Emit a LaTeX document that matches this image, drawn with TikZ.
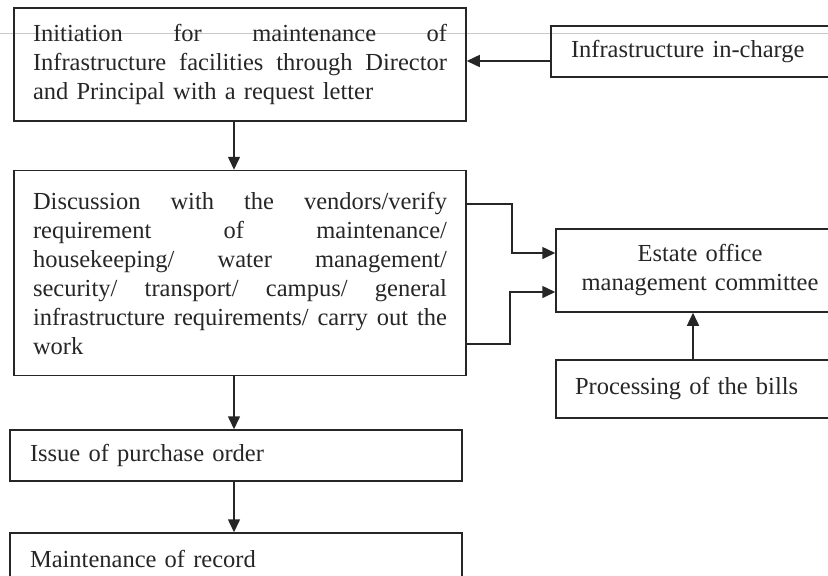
\documentclass[tikz,border=0pt]{standalone}
\usepackage{fontspec}
\setmainfont{Liberation Serif}
\usetikzlibrary{arrows.meta}

\definecolor{ink}{HTML}{262626}
\definecolor{rule}{HTML}{C8C8C8}

% one justified line, spread to the text width of the wide boxes
% (the node alignment fixes the word space, so give it stretch again)
\newcommand\jline[1]{\makebox[207pt][s]{\spaceskip=0.25em plus 10em\relax #1}\\}

\tikzset{
  box/.style={draw=ink, line width=0.75pt, rectangle, text=ink, inner ysep=0pt,
    font=\fontsize{12.25pt}{14.5pt}\selectfont},
  arr/.style={draw=ink, line width=0.75pt, -{Triangle[length=6.5pt,width=6pt]}},
  link/.style={draw=ink, line width=0.75pt}
}

\begin{document}
\begin{tikzpicture}[x=0.5pt,y=-0.5pt]
\useasboundingbox (0,0) rectangle (828,575);

% thin grey rule running across the top of the page
\draw[rule, line width=0.4pt] (0,33) -- (828,33);

% process boxes
\node[box, minimum width=226pt, minimum height=56.5pt, inner xsep=9.5pt,
      text width=207pt, align=left] (init) at (240,64.5)
  {\jline{Initiation for maintenance of}\jline{Infrastructure facilities through Director}and Principal with a request letter};

\node[box, minimum width=149.5pt, minimum height=25.5pt, inner xsep=10pt,
      text width=129.5pt, align=left] (incharge) at (700.5,51.5)
  {Infrastructure in-charge};

\node[box, minimum width=226pt, minimum height=102.5pt, inner xsep=9.5pt,
      text width=207pt, align=left] (disc) at (240,273)
  {\jline{Discussion with the vendors/verify}\jline{requirement of maintenance/}\jline{housekeeping/ water management/}\jline{security/ transport/ campus/ general}\jline{infrastructure requirements/ carry out the}work};

\node[box, minimum width=144pt, minimum height=41.5pt, inner xsep=10pt,
      text width=124pt, align=center] (estate) at (700,270.5)
  {Estate office\\management committee};

\node[box, minimum width=147pt, minimum height=29pt, inner xsep=9.5pt,
      text width=128pt, align=left] (bills) at (703,389)
  {Processing of the bills};

\node[box, minimum width=226pt, minimum height=25.5pt, inner xsep=10pt,
      text width=206pt, align=left] (po) at (236,455.5)
  {Issue of purchase order};

\node[box, minimum width=226pt, minimum height=26pt, inner xsep=10pt,
      text width=206pt, align=left] (record) at (236,559)
  {Maintenance of record};

% reference points for the connectors
\coordinate (ax) at (234,0);
\coordinate (bx) at (693,0);
\coordinate (r1) at (0,61);
\coordinate (u1) at (0,204);
\coordinate (u2) at (0,253);
\coordinate (l1) at (0,344);
\coordinate (l2) at (0,292);

% connectors
\draw[arr] (incharge.west |- r1) -- (init.east |- r1);
\draw[arr] (init.south -| ax) -- (disc.north -| ax);
\draw[arr] (disc.south -| ax) -- (po.north -| ax);
\draw[arr] (po.south -| ax) -- (record.north -| ax);
\draw[arr] (disc.east |- u1) -- (512,204) -- (512,253) -- (estate.west |- u2);
\draw[arr] (disc.east |- l1) -- (510,344) -- (510,292) -- (estate.west |- l2);
\draw[arr] (bills.north -| bx) -- (estate.south -| bx);
\end{tikzpicture}
\end{document}
